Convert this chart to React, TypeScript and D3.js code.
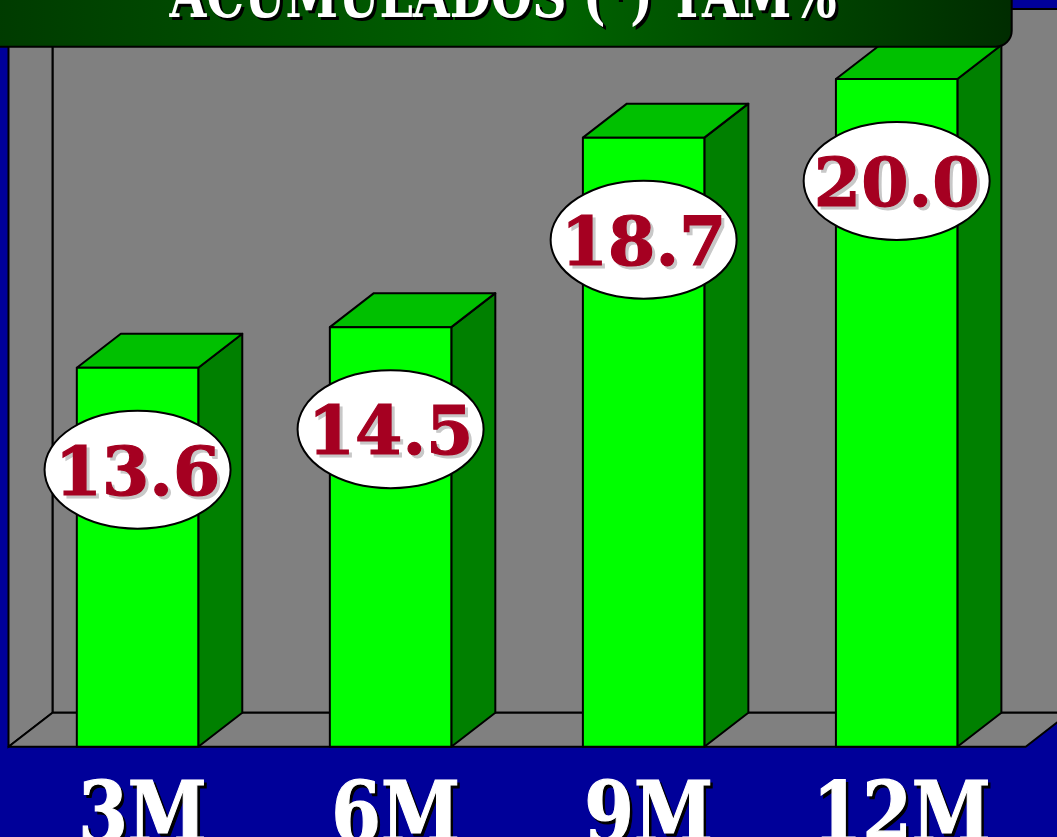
import React from 'react';
import * as d3 from 'd3';

// chart values
const categories = ['3M', '6M', '9M', '12M'];
const values = [13.6, 14.5, 18.7, 20.0];
const valueLabels = ['13.6', '14.5', '18.7', '20.0'];
const title = 'ACUMULADOS (*) TAM%';

const W = 1057;
const H = 837;
const DX = 44; // 3d depth
const DY = -34;

const App = () => {
  const floorY = 746.7;
  const left = 8.5;
  const right = 1025.7;

  const x = d3
    .scaleBand()
    .domain(categories)
    .range([left, right])
    .paddingInner(0.52)
    .paddingOuter(0.27);

  const y = d3.scaleLinear().domain([5.2, 20]).range([floorY, 79]);

  const bw = x.bandwidth();
  const serif = '"DejaVu Serif", serif';

  return (
    <svg
      width={W}
      height={H}
      style={{ position: 'absolute', left: 0, top: 0, display: 'block' }}
    >
      <defs>
        <linearGradient id="titleGrad" x1="0" x2="1" y1="0" y2="0">
          <stop offset="0%" stopColor="#003a00" />
          <stop offset="55%" stopColor="#006400" />
          <stop offset="100%" stopColor="#002c00" />
        </linearGradient>
      </defs>
      <rect width={W} height={H} fill="#000099" />

      {/* back wall */}
      <rect x={left + DX} y={9} width={W} height={floorY + DY - 9} fill="#808080" stroke="#000" strokeWidth={2} />
      {/* left side wall */}
      <path
        d={`M${left},${floorY}L${left + DX},${floorY + DY}L${left + DX},0L${left},0Z`}
        fill="#808080"
        stroke="#000"
        strokeWidth={2}
      />
      {/* floor */}
      <path
        d={`M${left},${floorY}L${right},${floorY}L${right + DX},${floorY + DY}L${left + DX},${floorY + DY}Z`}
        fill="#808080"
        stroke="#000"
        strokeWidth={2}
        strokeLinejoin="round"
      />

      {/* bars */}
      {categories.map((c, i) => {
        const x0 = x(c) as number;
        const x1 = x0 + bw;
        const yt = y(values[i]);
        return (
          <g key={c} stroke="#000" strokeWidth={2} strokeLinejoin="round">
            <path
              d={`M${x1},${floorY}L${x1 + DX},${floorY + DY}L${x1 + DX},${yt + DY}L${x1},${yt}Z`}
              fill="#008000"
            />
            <path
              d={`M${x0},${yt}L${x0 + DX},${yt + DY}L${x1 + DX},${yt + DY}L${x1},${yt}Z`}
              fill="#00c000"
            />
            <rect x={x0} y={yt} width={bw} height={floorY - yt} fill="#00ff00" />
          </g>
        );
      })}

      {/* value bubbles */}
      {categories.map((c, i) => {
        const cx = (x(c) as number) + bw / 2;
        const cy = y(values[i]) + 102;
        return (
          <g key={'lab' + c}>
            <ellipse cx={cx} cy={cy} rx={93} ry={59} fill="#fff" stroke="#000" strokeWidth={2} />
            <text
              x={cx + 3}
              y={cy + 28}
              textAnchor="middle"
              fontFamily={serif}
              fontWeight="bold"
              fontSize={68}
              fill="#c8c8c8"
              stroke="#c8c8c8"
              strokeWidth={1.2}
            >
              {valueLabels[i]}
            </text>
            <text
              x={cx}
              y={cy + 25}
              textAnchor="middle"
              fontFamily={serif}
              fontWeight="bold"
              fontSize={68}
              fill="#a50021"
              stroke="#a50021"
              strokeWidth={1.2}
            >
              {valueLabels[i]}
            </text>
          </g>
        );
      })}

      {/* category labels */}
      {categories.map((c) => {
        const cx = (x(c) as number) + bw / 2 + 5;
        return (
          <g key={'cat' + c} transform={`translate(${cx},842) scale(0.85,1)`}>
            <text x={3} y={3} textAnchor="middle" fontFamily={serif} fontWeight="bold" fontSize={84} fill="#000" stroke="#000" strokeWidth={1.2}>
              {c}
            </text>
            <text x={0} y={0} textAnchor="middle" fontFamily={serif} fontWeight="bold" fontSize={84} fill="#fff" stroke="#fff" strokeWidth={1.2}>
              {c}
            </text>
          </g>
        );
      })}

      {/* title box */}
      <rect x={-20} y={-30} width={1031.7} height={76.7} rx={16} fill="url(#titleGrad)" stroke="#000" strokeWidth={2} />
      <text
        x={506}
        y={20}
        textAnchor="middle"
        fontFamily={serif}
        fontWeight="bold"
        fontSize={64}
        fill="#000"
        textLength={667}
        lengthAdjust="spacingAndGlyphs"
      >
        {title}
      </text>
      <text
        x={503}
        y={17}
        textAnchor="middle"
        fontFamily={serif}
        fontWeight="bold"
        fontSize={64}
        fill="#fff"
        textLength={667}
        lengthAdjust="spacingAndGlyphs"
      >
        {title}
      </text>
    </svg>
  );
};

export default App;
